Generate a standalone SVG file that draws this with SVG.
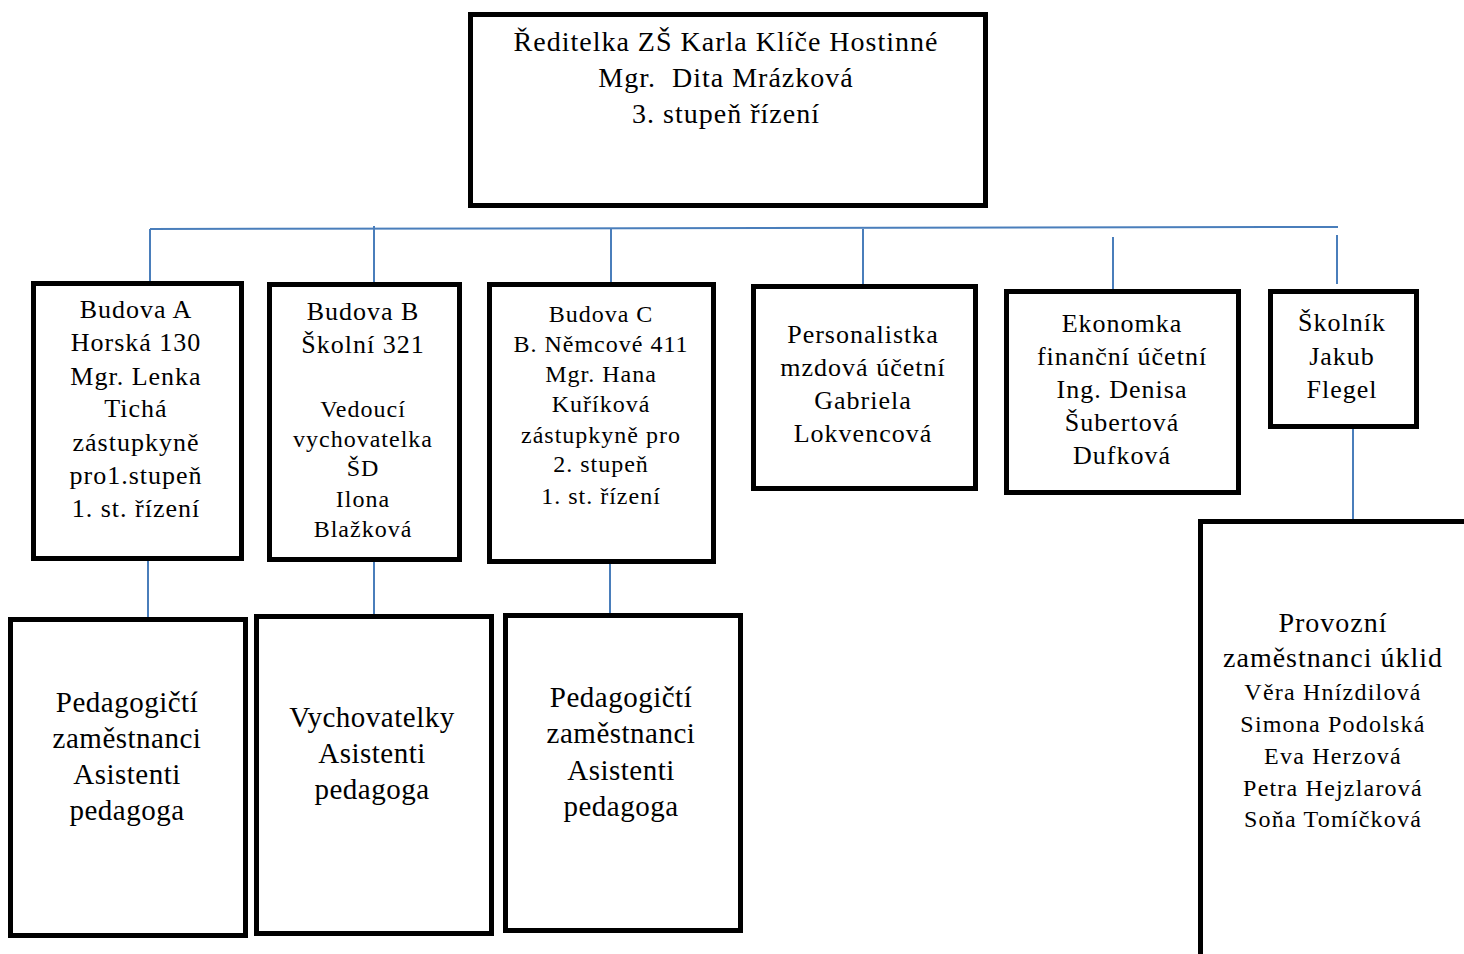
<svg xmlns="http://www.w3.org/2000/svg" width="1464" height="954" viewBox="0 0 1464 954">
<style>
.box{fill:#fff;stroke:#000;stroke-width:5}
.ln{stroke:#4a7ebb;stroke-width:2;fill:none}
text{font-family:"Liberation Serif","DejaVu Serif",serif;fill:#000;text-anchor:middle}
.t27{font-size:28px;letter-spacing:1px}
.t24{font-size:26px;letter-spacing:1px}
.t22{font-size:24px;letter-spacing:1px}
.t22b{font-size:24px;letter-spacing:1.2px}
.t28{font-size:29px;letter-spacing:0.5px}
</style>
<rect width="1464" height="954" fill="#fff"/>
<g id="connectors">
<path class="ln" d="M150,229 L1338,227"/>
<path class="ln" d="M150,229 V283"/>
<path class="ln" d="M374,226 V283"/>
<path class="ln" d="M611,229 V284"/>
<path class="ln" d="M863,229 V287"/>
<path class="ln" d="M1113,237 V290"/>
<path class="ln" d="M1337,235 V284"/>
<path class="ln" d="M148,561 V620"/>
<path class="ln" d="M374,561 V615"/>
<path class="ln" d="M610,563 V615"/>
<path class="ln" d="M1353,428 V522"/>
</g>
<g id="director">
<rect class="box" x="470.500" y="14.500" width="515" height="191"/>
<text class="t27" x="726" y="51">Ředitelka ZŠ Karla Klíče Hostinné</text>
<text class="t27" x="726" y="87" xml:space="preserve">Mgr.  Dita Mrázková</text>
<text class="t27" x="726" y="123">3. stupeň řízení</text>
</g>
<g id="budova-a">
<rect class="box" x="33.500" y="283.500" width="208" height="275"/>
<text class="t24" x="136" y="318">Budova A</text>
<text class="t24" x="136" y="351">Horská 130</text>
<text class="t24" x="136" y="385">Mgr. Lenka</text>
<text class="t24" x="136" y="417">Tichá</text>
<text class="t24" x="136" y="451">zástupkyně</text>
<text class="t24" x="136" y="484">pro1.stupeň</text>
<text class="t24" x="136" y="517">1. st. řízení</text>
</g>
<g id="budova-b">
<rect class="box" x="269.500" y="284.500" width="190" height="275"/>
<text class="t24" x="363" y="320">Budova B</text>
<text class="t24" x="363" y="353">Školní 321</text>
<text class="t22" x="363" y="417">Vedoucí</text>
<text class="t22" x="363" y="447">vychovatelka</text>
<text class="t22" x="363" y="476">ŠD</text>
<text class="t22" x="363" y="507">Ilona</text>
<text class="t22" x="363" y="537">Blažková</text>
</g>
<g id="budova-c">
<rect class="box" x="489.500" y="284.500" width="224" height="277"/>
<text class="t22" x="601" y="322">Budova C</text>
<text class="t22" x="601" y="352">B. Němcové 411</text>
<text class="t22" x="601" y="382">Mgr. Hana</text>
<text class="t22" x="601" y="412">Kuříková</text>
<text class="t22" x="601" y="443">zástupkyně pro</text>
<text class="t22" x="601" y="472">2. stupeň</text>
<text class="t22" x="601" y="504">1. st. řízení</text>
</g>
<g id="personalistka">
<rect class="box" x="753.500" y="286.500" width="222" height="202"/>
<text class="t24" x="863" y="343">Personalistka</text>
<text class="t24" x="863" y="376">mzdová účetní</text>
<text class="t24" x="863" y="409">Gabriela</text>
<text class="t24" x="863" y="442">Lokvencová</text>
</g>
<g id="ekonomka">
<rect class="box" x="1006.500" y="291.500" width="232" height="201"/>
<text class="t24" x="1122" y="332">Ekonomka</text>
<text class="t24" x="1122" y="365">finanční účetní</text>
<text class="t24" x="1122" y="398">Ing. Denisa</text>
<text class="t24" x="1122" y="431">Šubertová</text>
<text class="t24" x="1122" y="464">Dufková</text>
</g>
<g id="skolnik">
<rect class="box" x="1270.500" y="291.500" width="146" height="135"/>
<text class="t24" x="1342" y="331">Školník</text>
<text class="t24" x="1342" y="365">Jakub</text>
<text class="t24" x="1342" y="398">Flegel</text>
</g>
<g id="pedagogicti-a">
<rect class="box" x="10.500" y="619.500" width="235" height="316"/>
<text class="t28" x="127" y="712">Pedagogičtí</text>
<text class="t28" x="127" y="748">zaměstnanci</text>
<text class="t28" x="127" y="784">Asistenti</text>
<text class="t28" x="127" y="820">pedagoga</text>
</g>
<g id="vychovatelky">
<rect class="box" x="256.500" y="616.500" width="235" height="317"/>
<text class="t28" x="372" y="727">Vychovatelky</text>
<text class="t28" x="372" y="763">Asistenti</text>
<text class="t28" x="372" y="799">pedagoga</text>
</g>
<g id="pedagogicti-c">
<rect class="box" x="505.500" y="615.500" width="235" height="315"/>
<text class="t28" x="621" y="707">Pedagogičtí</text>
<text class="t28" x="621" y="743">zaměstnanci</text>
<text class="t28" x="621" y="780">Asistenti</text>
<text class="t28" x="621" y="816">pedagoga</text>
</g>
<g id="provozni">
<rect class="box" x="1200.500" y="521.500" width="300" height="460"/>
<text class="t27" x="1333" y="632">Provozní</text>
<text class="t27" x="1333" y="667">zaměstnanci úklid</text>
<text class="t22b" x="1333" y="700">Věra Hnízdilová</text>
<text class="t22b" x="1333" y="732">Simona Podolská</text>
<text class="t22b" x="1333" y="764">Eva Herzová</text>
<text class="t22b" x="1333" y="796">Petra Hejzlarová</text>
<text class="t22b" x="1333" y="827">Soňa Tomíčková</text>
</g>
</svg>
